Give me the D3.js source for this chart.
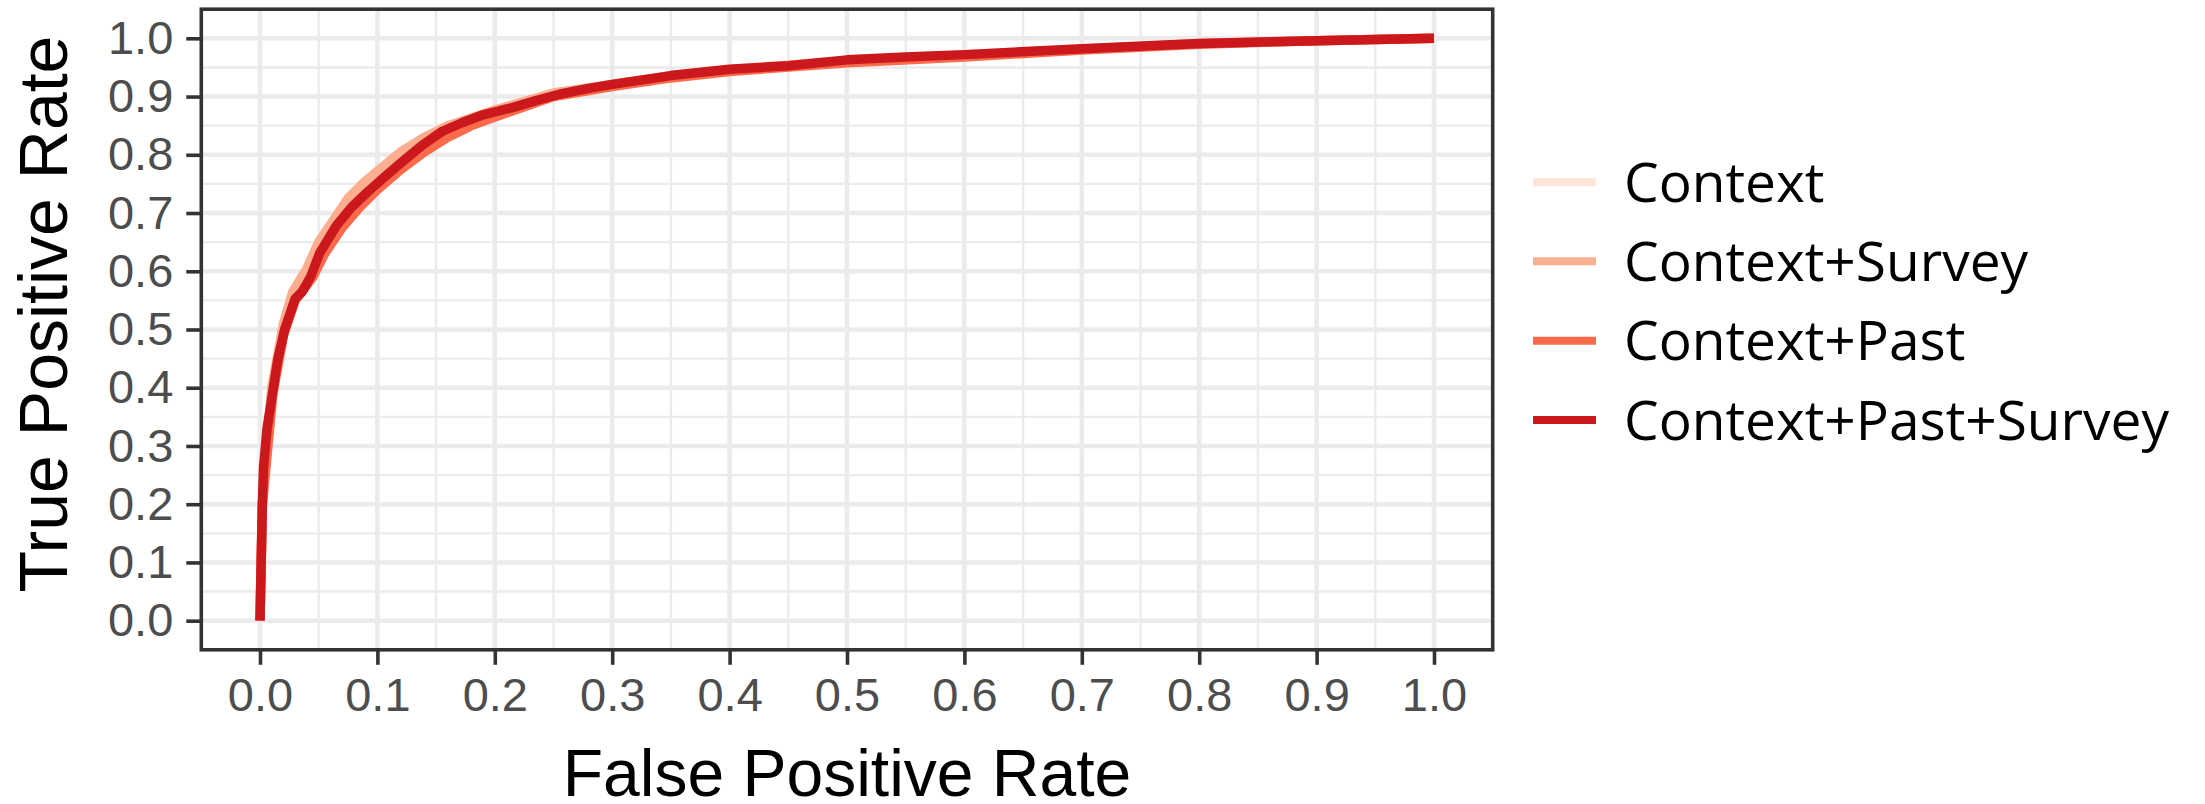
<!DOCTYPE html>
<html>
<head>
<meta charset="utf-8">
<script src="https://cdn.jsdelivr.net/npm/d3@7"></script>
<style>
  body { margin: 0; background: #fff; }
  svg { display: block; }
  .tick text { font-family: "Liberation Sans", Arial, Helvetica, sans-serif; }
</style>
</head>
<body>
<div id="chart"></div>
<script>
//// data: ROC points [false positive rate, true positive rate]
var seriesNames = ["Context", "Context+Survey", "Context+Past", "Context+Past+Survey"];
var seriesColors = ["#fee5d9", "#fcae91", "#fb6a4a", "#cb181d"];

var rocContext = [[0,0],[0.002,0.19],[0.01,0.39],[0.02,0.5],[0.03,0.56],[0.04,0.6],[0.05,0.645],
  [0.065,0.69],[0.08,0.73],[0.1,0.77],[0.12,0.8],[0.14,0.825],[0.16,0.848],[0.18,0.862],[0.2,0.875],
  [0.25,0.905],[0.3,0.921],[0.4,0.947],[0.5,0.962],[0.6,0.972],[0.7,0.982],[0.8,0.991],[0.9,0.996],[1,1]];
var rocContextSurvey = [[0,0],[0.002,0.2],[0.01,0.4],[0.02,0.51],[0.028,0.565],[0.04,0.605],[0.05,0.65],
  [0.06,0.68],[0.075,0.725],[0.09,0.755],[0.105,0.78],[0.12,0.805],[0.14,0.83],[0.16,0.85],[0.18,0.863],
  [0.2,0.877],[0.25,0.906],[0.3,0.921],[0.35,0.936],[0.4,0.946],[0.5,0.961],[0.6,0.971],[0.7,0.981],
  [0.8,0.991],[0.9,0.996],[1,1]];
var rocContextPast = [[0,0],[0.002,0.2],[0.011,0.39],[0.02,0.49],[0.03,0.55],[0.045,0.59],[0.055,0.63],
  [0.07,0.675],[0.085,0.71],[0.1,0.74],[0.12,0.775],[0.14,0.805],[0.16,0.83],[0.18,0.85],[0.2,0.865],
  [0.25,0.9],[0.3,0.917],[0.35,0.932],[0.4,0.943],[0.5,0.958],[0.6,0.968],[0.7,0.98],[0.8,0.99],
  [0.9,0.996],[1,1]];
var rocContextPastSurvey = [[0,0],[0.001,0.1],[0.002,0.2],[0.003,0.263],[0.006,0.33],[0.011,0.395],
  [0.015,0.447],[0.021,0.5],[0.03,0.553],[0.036,0.565],[0.043,0.59],[0.051,0.632],[0.058,0.655],
  [0.065,0.678],[0.078,0.71],[0.092,0.737],[0.105,0.76],[0.12,0.786],[0.138,0.816],[0.155,0.84],
  [0.172,0.855],[0.189,0.868],[0.215,0.881],[0.235,0.893],[0.255,0.904],[0.28,0.914],[0.3,0.921],
  [0.35,0.936],[0.4,0.947],[0.45,0.953],[0.5,0.963],[0.55,0.968],[0.6,0.972],[0.7,0.982],[0.8,0.991],
  [0.9,0.996],[1,1]];

var seriesData = [rocContext, rocContextSurvey, rocContextPast, rocContextPastSurvey];
var tickValues = [0, 0.1, 0.2, 0.3, 0.4, 0.5, 0.6, 0.7, 0.8, 0.9, 1.0];
var minorValues = d3.range(-0.05, 1.06, 0.1);

//// chart
var W = 2205, H = 804;
var panel = {left: 201.3, right: 1492.7, top: 9.2, bottom: 649.8};

var svg = d3.select("#chart").append("svg")
    .attr("width", W)
    .attr("height", H);

var x = d3.scaleLinear().domain([-0.05, 1.05]).range([panel.left, panel.right]);
var y = d3.scaleLinear().domain([-0.05, 1.05]).range([panel.bottom, panel.top]);

//// grid
var grid = svg.append("g");
grid.selectAll(".vminor").data(minorValues).enter().append("line")
    .attr("x1", d => x(d)).attr("x2", d => x(d))
    .attr("y1", panel.top).attr("y2", panel.bottom)
    .attr("stroke", "#ebebeb").attr("stroke-width", 2.4);
grid.selectAll(".hminor").data(minorValues).enter().append("line")
    .attr("y1", d => y(d)).attr("y2", d => y(d))
    .attr("x1", panel.left).attr("x2", panel.right)
    .attr("stroke", "#ebebeb").attr("stroke-width", 2.4);
grid.selectAll(".vmajor").data(tickValues).enter().append("line")
    .attr("x1", d => x(d)).attr("x2", d => x(d))
    .attr("y1", panel.top).attr("y2", panel.bottom)
    .attr("stroke", "#ebebeb").attr("stroke-width", 4.6);
grid.selectAll(".hmajor").data(tickValues).enter().append("line")
    .attr("y1", d => y(d)).attr("y2", d => y(d))
    .attr("x1", panel.left).attr("x2", panel.right)
    .attr("stroke", "#ebebeb").attr("stroke-width", 4.6);

//// curves
var line = d3.line().x(d => x(d[0])).y(d => y(d[1]));
svg.selectAll(".roc").data(seriesData).enter().append("path")
    .attr("class", "roc")
    .attr("d", line)
    .attr("fill", "none")
    .attr("stroke", (d, i) => seriesColors[i])
    .attr("stroke-width", 9.5)
    .attr("stroke-linecap", "butt")
    .attr("stroke-linejoin", "round");

//// panel border
svg.append("rect")
    .attr("x", panel.left).attr("y", panel.top)
    .attr("width", panel.right - panel.left)
    .attr("height", panel.bottom - panel.top)
    .attr("fill", "none")
    .attr("stroke", "#333333")
    .attr("stroke-width", 3.6);

//// axes
var fmt = d3.format(".1f");
var xAxis = svg.append("g")
    .attr("transform", "translate(0," + panel.bottom + ")")
    .call(d3.axisBottom(x).tickValues(tickValues).tickFormat(fmt).tickSize(15).tickPadding(13));
var yAxis = svg.append("g")
    .attr("transform", "translate(" + panel.left + ",0)")
    .call(d3.axisLeft(y).tickValues(tickValues).tickFormat(fmt).tickSize(15).tickPadding(13));

[xAxis, yAxis].forEach(function(a) {
    a.select(".domain").remove();
    a.selectAll(".tick line").attr("stroke", "#333333").attr("stroke-width", 3.6);
    a.selectAll(".tick text")
        .attr("fill", "#4d4d4d")
        .style("font-size", "47px");
});

//// axis titles
svg.append("text")
    .attr("x", (panel.left + panel.right) / 2)
    .attr("y", 796)
    .attr("text-anchor", "middle")
    .style("font-family", "Liberation Sans, Arial, Helvetica, sans-serif")
    .style("font-size", "66px")
    .text("False Positive Rate");

svg.append("text")
    .attr("transform", "translate(67,314) rotate(-90)")
    .attr("text-anchor", "middle")
    .style("font-family", "Liberation Sans, Arial, Helvetica, sans-serif")
    .style("font-size", "68px")
    .text("True Positive Rate");

//// legend
var legend = svg.append("g");
var legendY = d3.scalePoint().domain(seriesNames).range([182, 420]);

legend.selectAll(".key").data(seriesNames).enter().append("line")
    .attr("x1", 1533).attr("x2", 1596)
    .attr("y1", d => legendY(d)).attr("y2", d => legendY(d))
    .attr("stroke", (d, i) => seriesColors[i])
    .attr("stroke-width", 8);

legend.selectAll(".label").data(seriesNames).enter().append("text")
    .attr("x", 1624)
    .attr("y", d => legendY(d) + 19.5)
    .style("font-family", "'Open Sans', 'Noto Sans', sans-serif")
    .style("font-size", "55px")
    .text(d => d);
</script>
</body>
</html>
